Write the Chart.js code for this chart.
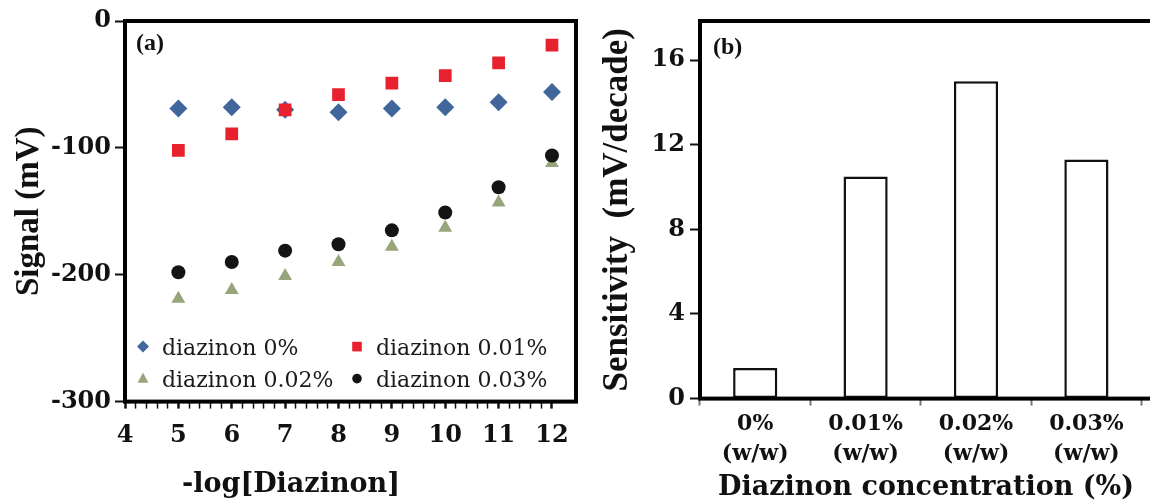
<!DOCTYPE html>
<html>
<head>
<meta charset="utf-8">
<script src="https://cdn.jsdelivr.net/npm/chart.js@4.4.1/dist/chart.umd.min.js"></script>
<style>
  body { margin: 0; width: 1150px; height: 504px; overflow: hidden; background: #fff; }
  .panel { position: absolute; top: 0; height: 504px; overflow: hidden; }
</style>
</head>
<body>
<div class="panel" style="left:0;width:600px"><canvas id="chartA" width="585" height="504"></canvas></div>
<div class="panel" style="left:600px;width:550px"><canvas id="chartB" width="656" height="504"></canvas></div>
<script>
// panel (a): signal vs -log[Diazinon]
var logConc = [5, 6, 7, 8, 9, 10, 11, 12];
var sig0 = [-69, -68, -70, -72, -69, -68, -64, -56];
var sig001 = [-102, -89, -70, -58, -49, -43, -33, -19];
var sig002 = [-219, -212, -201, -190, -178, -163, -143, -112];
var sig003 = [-198, -190, -181, -176, -165, -151, -131, -106];
var seriesNames = ['diazinon 0%', 'diazinon 0.01%', 'diazinon 0.02%', 'diazinon 0.03%'];

// panel (b): sensitivity per membrane
var concLabels = [['0%', '(w/w)'], ['0.01%', '(w/w)'], ['0.02%', '(w/w)'], ['0.03%', '(w/w)'], ''];
var sensitivity = [1.45, 10.5, 15.0, 11.3, null];

const serif = 'DejaVu Serif';
const ink = '#111';

function pts(ys) {
    return logConc.map((x, i) => ({x: x, y: ys[i]}));
}

// thick frame round the plot area
const boxBorder = {
    id: 'boxBorder',
    afterDatasetsDraw(chart) {
        const {ctx, chartArea: a} = chart;
        ctx.save();
        ctx.lineWidth = 4;
        ctx.strokeStyle = '#000';
        ctx.strokeRect(a.left, a.top, a.right - a.left, a.bottom - a.top);
        ctx.restore();
    }
};

// "(a)" / "(b)" in the corner
const panelTag = {
    id: 'panelTag',
    afterDraw(chart, args, opts) {
        const {ctx, chartArea: a} = chart;
        ctx.save();
        ctx.font = 'bold 24px "Liberation Serif"';
        ctx.fillStyle = ink;
        ctx.textBaseline = 'middle';
        ctx.fillText(opts.text, a.left + opts.dx, a.top + opts.dy);
        ctx.restore();
    }
};

function marker(ctx, style, x, y, r) {
    ctx.beginPath();
    if (style === 'rectRot') {
        ctx.moveTo(x, y - r); ctx.lineTo(x + r, y); ctx.lineTo(x, y + r); ctx.lineTo(x - r, y);
    } else if (style === 'rect') {
        ctx.rect(x - r * 0.8, y - r * 0.8, r * 1.6, r * 1.6);
    } else if (style === 'triangle') {
        ctx.moveTo(x, y - r); ctx.lineTo(x + r * 0.9, y + r * 0.7); ctx.lineTo(x - r * 0.9, y + r * 0.7);
    } else {
        ctx.arc(x, y, r * 0.8, 0, Math.PI * 2);
    }
    ctx.closePath();
    ctx.fill();
}

// legend drawn inside the plot area, 2 x 2
const insideLegend = {
    id: 'insideLegend',
    afterDraw(chart) {
        const {ctx, chartArea: a} = chart;
        ctx.save();
        ctx.font = '22px "DejaVu Serif"';
        ctx.textBaseline = 'middle';
        chart.data.datasets.forEach((ds, i) => {
            const col = i % 2, row = Math.floor(i / 2);
            const mx = a.left + 18 + col * 214;
            const my = a.bottom - 52 + row * 32;
            ctx.fillStyle = ds.backgroundColor;
            marker(ctx, ds.pointStyle, mx, my - 3, 6);
            ctx.fillStyle = '#1a1a1a';
            ctx.fillText(ds.label, mx + 19, my);
        });
        ctx.restore();
    }
};

const isWhole = v => Math.abs(v - Math.round(v)) < 1e-6;

new Chart(document.getElementById('chartA'), {
    type: 'scatter',
    data: {
        datasets: [
            {label: seriesNames[0], data: pts(sig0), pointStyle: 'rectRot', radius: 9, backgroundColor: '#41669c', borderWidth: 0, order: 2},
            {label: seriesNames[1], data: pts(sig001), pointStyle: 'rect', radius: 9, backgroundColor: '#e8212f', borderWidth: 0, order: 1},
            {label: seriesNames[2], data: pts(sig002), pointStyle: 'triangle', radius: 8, backgroundColor: '#98a57a', borderWidth: 0, order: 4},
            {label: seriesNames[3], data: pts(sig003), pointStyle: 'circle', radius: 7, backgroundColor: '#141414', borderWidth: 0, order: 3}
        ]
    },
    options: {
        responsive: false,
        animation: false,
        layout: {padding: {left: 0, right: 3, top: 21, bottom: 0}},
        plugins: {
            legend: {display: false},
            tooltip: {enabled: false},
            panelTag: {text: '(a)', dx: 11, dy: 23},
            title: {
                display: true,
                position: 'bottom',
                text: '-log[Diazinon]',
                color: ink,
                font: {family: serif, weight: 'bold', size: 27},
                padding: {top: 8, bottom: 3}
            }
        },
        scales: {
            x: {
                type: 'linear',
                min: 4,
                max: 12.45,
                afterBuildTicks: s => { s.ticks = s.ticks.filter(t => t.value <= 12.001); },
                afterFit: s => { s.height = 59; },
                border: {display: false},
                grid: {
                    drawOnChartArea: false,
                    tickLength: 7,
                    tickColor: ink,
                    tickWidth: c => (c.tick && isWhole(c.tick.value)) ? 2.5 : 1.5
                },
                ticks: {
                    stepSize: 0.2,
                    autoSkip: false,
                    maxRotation: 0,
                    padding: 13,
                    color: ink,
                    font: {family: serif, weight: 'bold', size: 24},
                    callback: v => isWhole(v) ? String(Math.round(v)) : ''
                }
            },
            y: {
                min: -300,
                max: 0,
                afterFit: s => { s.width = 125; },
                border: {display: false},
                grid: {drawOnChartArea: false, tickLength: 10, tickWidth: 2, tickColor: ink},
                ticks: {stepSize: 100, padding: 4, color: ink, font: {family: serif, weight: 'bold', size: 24}},
                title: {
                    display: true,
                    text: 'Signal (mV)',
                    color: ink,
                    font: {family: 'Liberation Serif', weight: 'bold', size: 33, lineHeight: 1},
                    padding: {top: 13, bottom: 0}
                }
            }
        }
    },
    plugins: [boxBorder, panelTag, insideLegend]
});

new Chart(document.getElementById('chartB'), {
    type: 'bar',
    data: {
        labels: concLabels,
        datasets: [{
            data: sensitivity,
            backgroundColor: '#fff',
            borderColor: ink,
            borderWidth: 2.5,
            borderSkipped: false,
            barPercentage: 0.4,
            categoryPercentage: 1
        }]
    },
    options: {
        responsive: false,
        animation: false,
        layout: {padding: {left: 0, right: 4, top: 21, bottom: 0}},
        plugins: {
            legend: {display: false},
            tooltip: {enabled: false},
            panelTag: {text: '(b)', dx: 13, dy: 27},
            title: {
                display: true,
                position: 'bottom',
                text: 'Diazinon concentration (%)',
                color: ink,
                font: {family: serif, weight: 'bold', size: 27},
                padding: {top: 3, bottom: 0}
            }
        },
        scales: {
            x: {
                afterFit: s => { s.height = 70; },
                border: {display: false},
                grid: {drawOnChartArea: false, offset: true, tickLength: 7, tickWidth: 2, tickColor: '#777'},
                ticks: {
                    autoSkip: false,
                    maxRotation: 0,
                    padding: 4,
                    color: ink,
                    font: {family: serif, weight: 'bold', size: 22, lineHeight: 1.35}
                }
            },
            y: {
                min: 0,
                max: 17.85,
                afterBuildTicks: s => { s.ticks = s.ticks.filter(t => Math.abs(t.value / 4 - Math.round(t.value / 4)) < 1e-6); },
                afterFit: s => { s.width = 100; },
                border: {display: false},
                grid: {drawOnChartArea: false, tickLength: 10, tickWidth: 2, tickColor: ink},
                ticks: {stepSize: 4, padding: 5, color: ink, font: {family: serif, weight: 'bold', size: 24}},
                title: {
                    display: true,
                    text: 'Sensitivity  (mV/decade)',
                    color: ink,
                    font: {family: 'Liberation Serif', weight: 'bold', size: 35, lineHeight: 1},
                    padding: {top: 0, bottom: 0}
                }
            }
        }
    },
    plugins: [boxBorder, panelTag]
});
</script>
</body>
</html>
